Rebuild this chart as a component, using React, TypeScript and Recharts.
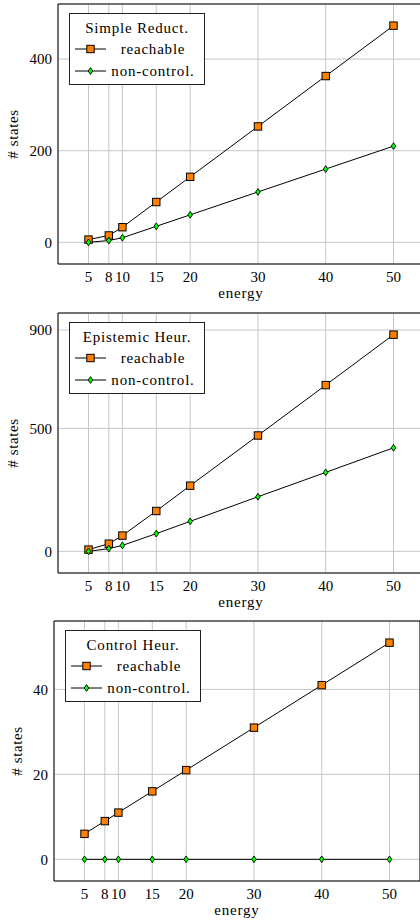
import React from 'react';
import {
  LineChart,
  Line,
  XAxis,
  YAxis,
  CartesianGrid,
  ReferenceArea,
  Legend,
} from 'recharts';

// energy levels on the x axis (also the tick labels)
const energy = [5, 8, 10, 15, 20, 30, 40, 50];

const simpleReachable = [6, 15, 33, 88, 143, 253, 363, 473];
const simpleNonControl = [0, 4, 10, 35, 60, 110, 160, 210];
const simpleTicks = [0, 200, 400];

const epistemicReachable = [7, 31, 64, 164, 267, 471, 676, 881];
const epistemicNonControl = [0, 11, 24, 72, 122, 222, 321, 421];
const epistemicTicks = [0, 500, 900];

const controlReachable = [6, 9, 11, 16, 21, 31, 41, 51];
const controlNonControl = [0, 0, 0, 0, 0, 0, 0, 0];
const controlTicks = [0, 20, 40];

const FONT = "Liberation Serif, Tinos, 'Times New Roman', FreeSerif, serif";
const ORANGE = '#ff8000';
const GREEN = '#00ff00';
const GRID = '#c6c6c6';
const PLOT_W = 366;
const PLOT_H = 260;

function Square({ cx, cy, size = 7.4 }: any) {
  if (cx == null || cy == null) return null;
  return (
    <rect x={cx - size / 2} y={cy - size / 2} width={size} height={size}
      fill={ORANGE} stroke="#000" strokeWidth={1} />
  );
}

function Diamond({ cx, cy }: any) {
  if (cx == null || cy == null) return null;
  const w = 2.3, h = 3.4;
  return (
    <polygon points={`${cx},${cy - h} ${cx + w},${cy} ${cx},${cy + h} ${cx - w},${cy}`}
      fill={GREEN} stroke="#000" strokeWidth={0.9} />
  );
}

function XLabel({ viewBox }: any) {
  const { x, y, width } = viewBox;
  return (
    <text x={x + width / 2} y={y + 34} textAnchor="middle" fontFamily={FONT}
      fontSize={15} letterSpacing={0.8} fill="#000">energy</text>
  );
}

function YLabel({ viewBox, dist }: any) {
  const { x, y, width, height } = viewBox;
  const lx = x + width - dist;
  const ly = y + height / 2;
  return (
    <text x={lx} y={ly} transform={`rotate(-90, ${lx}, ${ly})`} textAnchor="middle"
      fontFamily={FONT} fontSize={15} letterSpacing={0.6} fill="#000"># states</text>
  );
}

// legend drawn as svg so it uses the same text rendering as the axes
function LegendBox({ title }: { title: string }) {
  const rows = [
    { label: 'reachable', y: 36, marker: (y: number) => <Square cx={21.5} cy={y} /> },
    { label: 'non-control.', y: 58, marker: (y: number) => <Diamond cx={21.5} cy={y} /> },
  ];
  return (
    <svg width={136} height={72} style={{ display: 'block' }}>
      <rect x={0.5} y={0.5} width={135} height={71} fill="#fff" stroke="#222" strokeWidth={1} />
      <text x={68} y={20} textAnchor="middle" fontFamily={FONT} fontSize={15}
        letterSpacing={0.8} fill="#000">{title}</text>
      {rows.map((r) => (
        <g key={r.label}>
          <line x1={6} x2={37} y1={r.y} y2={r.y} stroke="#000" strokeWidth={1} />
          {r.marker(r.y)}
          <text x={84} y={r.y + 5} textAnchor="middle" fontFamily={FONT} fontSize={15}
            letterSpacing={0.8} fill="#000">{r.label}</text>
        </g>
      ))}
    </svg>
  );
}

function Panel({ title, reachable, nonControl, yTicks, top, plotLeft, labelDist }: any) {
  const data = energy.map((e, i) => ({ energy: e, reachable: reachable[i], nonControl: nonControl[i] }));
  // pgfplots-style 10% enlarged limits
  const all = [...reachable, ...nonControl];
  const lo = Math.min(...all);
  const hi = Math.max(...all);
  const yPad = (hi - lo) * 0.1;
  const yDomain = [lo - yPad, hi + yPad];
  const xPad = (energy[energy.length - 1] - energy[0]) * 0.1;
  const xDomain = [energy[0] - xPad, energy[energy.length - 1] + xPad];
  const yAxisW = 50;
  const tickStyle = { fontSize: 15, fill: '#000', fontFamily: FONT };

  return (
    <div style={{ position: 'absolute', left: 0, top }}>
      <LineChart width={plotLeft + PLOT_W} height={4 + PLOT_H + 44} data={data}
        margin={{ top: 4, right: 0, bottom: 0, left: plotLeft - yAxisW }}>
        <CartesianGrid stroke={GRID} strokeWidth={1} />
        <XAxis type="number" dataKey="energy" domain={xDomain} ticks={energy} interval={0}
          allowDataOverflow axisLine={false} tickLine={false} tickSize={0} tickMargin={7}
          height={44} tick={tickStyle} label={<XLabel />} />
        <YAxis type="number" domain={yDomain} ticks={yTicks} interval={0} allowDataOverflow
          width={yAxisW} axisLine={false} tickLine={false} tickSize={0} tickMargin={6}
          tick={tickStyle} label={<YLabel dist={labelDist} />} />
        <ReferenceArea x1={xDomain[0]} x2={xDomain[1]} y1={yDomain[0]} y2={yDomain[1]}
          fill="none" fillOpacity={0} stroke="#000" strokeWidth={1} strokeOpacity={1} />
        <Legend layout="horizontal" align="center" verticalAlign="middle"
          wrapperStyle={{ left: plotLeft + 11.3, top: 12.5, width: 136, height: 72 }}
          content={() => <LegendBox title={title} />} />
        <Line type="linear" dataKey="reachable" stroke="#000" strokeWidth={1}
          dot={(p: any) => <Square key={`r${p.index}`} cx={p.cx} cy={p.cy} />}
          activeDot={false} isAnimationActive={false} />
        <Line type="linear" dataKey="nonControl" stroke="#000" strokeWidth={1}
          dot={(p: any) => <Diamond key={`n${p.index}`} cx={p.cx} cy={p.cy} />}
          activeDot={false} isAnimationActive={false} />
      </LineChart>
    </div>
  );
}

export default function App() {
  return (
    <div style={{ position: 'absolute', left: 0, top: 0, width: 420, height: 924, overflow: 'hidden', background: '#fff' }}>
      <Panel title="Simple Reduct." reachable={simpleReachable} nonControl={simpleNonControl}
        yTicks={simpleTicks} top={0} plotLeft={58} labelDist={40.5} />
      <Panel title="Epistemic Heur." reachable={epistemicReachable} nonControl={epistemicNonControl}
        yTicks={epistemicTicks} top={309} plotLeft={58} labelDist={40.5} />
      <Panel title="Control Heur." reachable={controlReachable} nonControl={controlNonControl}
        yTicks={controlTicks} top={617} plotLeft={54} labelDist={32} />
    </div>
  );
}
